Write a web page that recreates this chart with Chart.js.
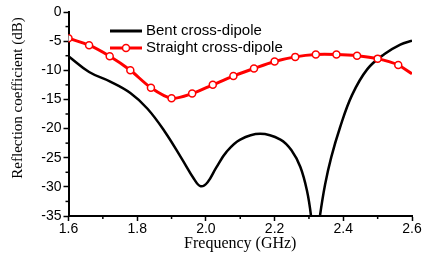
<!DOCTYPE html>
<html>
<head>
<meta charset="utf-8">
<script src="https://cdn.jsdelivr.net/npm/chart.js@4"></script>
<style>
  body { margin: 0; background: #fff; }
  canvas { display: block; }
</style>
</head>
<body>
<canvas id="chart" width="422" height="257"></canvas>
<script>
// Bent cross-dipole (black curve)
const bentFreq = [1.6, 1.66, 1.72, 1.78, 1.83, 1.88, 1.93, 1.965, 1.985, 2.005, 2.03, 2.06, 2.1, 2.158, 2.217, 2.25, 2.275, 2.294, 2.306, 2.317, 2.332, 2.347, 2.365, 2.39, 2.425, 2.47, 2.52, 2.566, 2.6];
const bentDb   = [-7.6, -10.3, -11.9, -13.9, -16.6, -20.5, -25.2, -28.6, -29.9, -29.2, -26.7, -24.0, -21.9, -20.9, -21.9, -23.8, -26.6, -30.6, -35, -42, -35, -29.6, -24.9, -19.9, -14.3, -9.8, -7.2, -5.6, -4.9];

// Straight cross-dipole (red with markers)
const straightFreq = [1.6, 1.66, 1.72, 1.78, 1.84, 1.90, 1.96, 2.02, 2.08, 2.14, 2.20, 2.26, 2.32, 2.38, 2.44, 2.50, 2.56, 2.6];
const straightDb   = [-4.5, -5.7, -7.6, -10.0, -13.0, -14.8, -14.0, -12.5, -11.0, -9.7, -8.5, -7.7, -7.3, -7.3, -7.5, -8.0, -9.1, -10.6];

const xTicks = [1.6, 1.8, 2.0, 2.2, 2.4, 2.6];
const yTicks = [0, -5, -10, -15, -20, -25, -30, -35];
const xMinor = [1.7, 1.9, 2.1, 2.3, 2.5];
const yMinor = [-2.5, -7.5, -12.5, -17.5, -22.5, -27.5, -32.5];

const seriesNames = ['Bent cross-dipole', 'Straight cross-dipole'];
const xTitle = 'Frequency (GHz)';
const yTitle = 'Reflection coefficient (dB)';

const toPoints = (xs, ys) => xs.map((x, i) => ({ x: x, y: ys[i] }));

/* minor ticks, axis titles and legend */
const extras = {
    id: 'extras',
    afterDraw(chart) {
        const ctx = chart.ctx;
        const xs = chart.scales.x, ys = chart.scales.y;
        const area = chart.chartArea;
        ctx.save();
        ctx.strokeStyle = '#000';
        ctx.lineWidth = 1.5;
        xMinor.forEach(v => {
            const px = xs.getPixelForValue(v);
            ctx.beginPath();
            ctx.moveTo(px, area.bottom);
            ctx.lineTo(px, area.bottom + 3);
            ctx.stroke();
        });
        yMinor.forEach(v => {
            const py = ys.getPixelForValue(v);
            ctx.beginPath();
            ctx.moveTo(area.left, py);
            ctx.lineTo(area.left - 3, py);
            ctx.stroke();
        });

        // axis titles
        ctx.fillStyle = '#000';
        ctx.textAlign = 'center';
        ctx.textBaseline = 'middle';
        ctx.font = '16px "Liberation Serif", "Times New Roman", serif';
        ctx.fillText(xTitle, (area.left + area.right) / 2, 244);
        ctx.save();
        ctx.translate(18, 98);
        ctx.rotate(-Math.PI / 2);
        ctx.font = '15px "Liberation Serif", "Times New Roman", serif';
        ctx.fillText(yTitle, 0, 0);
        ctx.restore();

        // legend
        ctx.font = '15px "Liberation Sans", Arial, sans-serif';
        ctx.textAlign = 'left';
        ctx.lineWidth = 3;
        ctx.strokeStyle = '#000';
        ctx.beginPath();
        ctx.moveTo(110, 31);
        ctx.lineTo(142, 31);
        ctx.stroke();
        ctx.fillText(seriesNames[0], 146, 31);

        ctx.strokeStyle = '#ff0000';
        ctx.beginPath();
        ctx.moveTo(110, 48);
        ctx.lineTo(142, 48);
        ctx.stroke();
        ctx.fillStyle = '#fff';
        ctx.lineWidth = 1.5;
        ctx.beginPath();
        ctx.arc(126, 48, 3.5, 0, Math.PI * 2);
        ctx.fill();
        ctx.stroke();
        ctx.fillStyle = '#000';
        ctx.fillText(seriesNames[1], 146, 48);
        ctx.restore();
    }
};

new Chart(document.getElementById('chart'), {
    type: 'line',
    data: {
        datasets: [{
            label: seriesNames[1],
            data: toPoints(straightFreq, straightDb),
            borderColor: '#ff0000',
            borderWidth: 3,
            tension: 0.3,
            pointRadius: ctx => ctx.dataIndex === straightFreq.length - 1 ? 0 : 3.5,
            pointBackgroundColor: '#fff',
            pointBorderColor: '#ff0000',
            pointBorderWidth: 1.5
        }, {
            label: seriesNames[0],
            data: toPoints(bentFreq, bentDb),
            borderColor: '#000',
            borderWidth: 2.5,
            tension: 0.4,
            pointRadius: 0
        }]
    },
    options: {
        responsive: false,
        animation: false,
        layout: { padding: { top: 12, right: 10, left: 0, bottom: 0 } },
        plugins: { legend: { display: false }, tooltip: { enabled: false } },
        scales: {
            x: {
                type: 'linear',
                min: 1.6,
                max: 2.6,
                afterBuildTicks: s => { s.ticks = xTicks.map(v => ({ value: v })); },
                afterFit: s => { s.height = 41; },
                border: { color: '#000', width: 2 },
                grid: { drawOnChartArea: false, tickLength: 5, tickColor: '#000', tickWidth: 1.5 },
                ticks: {
                    color: '#000',
                    padding: 0,
                    font: { family: '"Liberation Sans", Arial, sans-serif', size: 14 },
                    callback: v => v.toFixed(1)
                }
            },
            y: {
                min: -35,
                max: 0,
                afterBuildTicks: s => { s.ticks = yTicks.map(v => ({ value: v })); },
                afterFit: s => { s.width = 68.5; },
                border: { color: '#000', width: 2 },
                grid: { drawOnChartArea: false, tickLength: 5, tickColor: '#000', tickWidth: 1.5 },
                ticks: {
                    color: '#000',
                    padding: 2,
                    font: { family: '"Liberation Sans", Arial, sans-serif', size: 14 }
                }
            }
        }
    },
    plugins: [extras]
});
</script>
</body>
</html>
